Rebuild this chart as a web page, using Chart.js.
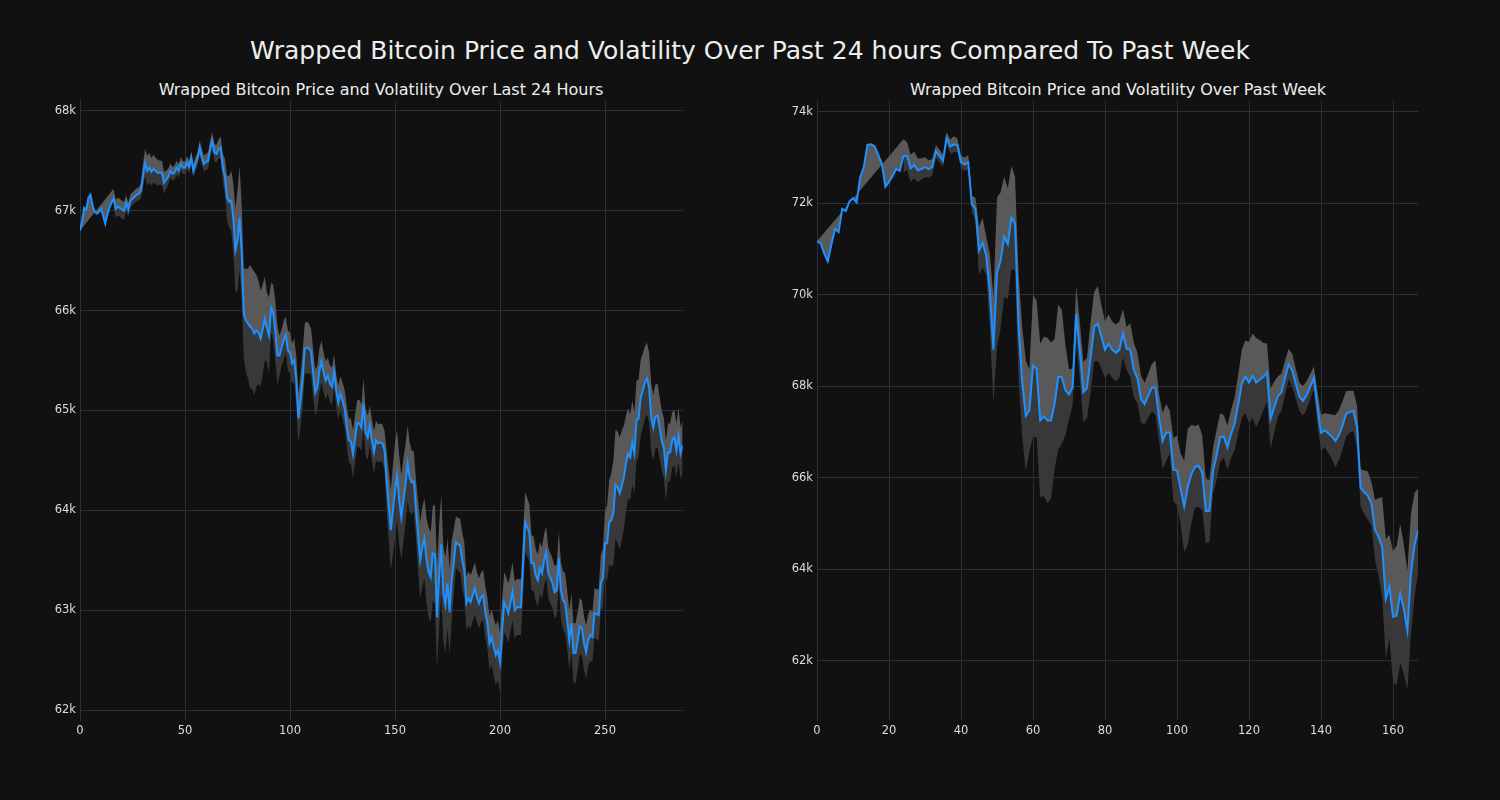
<!DOCTYPE html>
<html>
<head>
<meta charset="utf-8">
<script src="https://cdn.jsdelivr.net/npm/chart.js@4.4.1/dist/chart.umd.min.js"></script>
<style>
html,body{margin:0;padding:0;background:#111111;}
body{width:1500px;height:800px;position:relative;overflow:hidden;font-family:"DejaVu Sans",sans-serif;color:#eeeeee;}
.t{position:absolute;white-space:nowrap;transform:translate(-50%,-50%);}
#main{left:750px;top:50px;font-size:25px;}
#t1{left:381px;top:89px;font-size:16px;}
#t2{left:1118px;top:89px;font-size:16px;}
canvas{position:absolute;}
</style>
</head>
<body>
<div class="t" id="main">Wrapped Bitcoin Price and Volatility Over Past 24 hours Compared To Past Week</div>
<div class="t" id="t1">Wrapped Bitcoin Price and Volatility Over Last 24 Hours</div>
<div class="t" id="t2">Wrapped Bitcoin Price and Volatility Over Past Week</div>
<canvas id="c1" width="700" height="660" style="left:0px;top:90px"></canvas>
<canvas id="c2" width="700" height="660" style="left:740px;top:90px"></canvas>
<script>
// ---- Last 24 hours (5-minute steps) ----
const dayIndex = Array.from({length: 288}, (_, i) => i);
const dayPrice = [
66800,66900,67030,67010,67130,67160,67050,66990,66970,66990,
67020,66950,66870,66960,67030,67080,67120,67020,67040,67030,
67010,67000,67080,67010,67100,67120,67140,67160,67170,67200,
67350,67480,67400,67430,67390,67420,67400,67380,67380,67380,
67280,67310,67340,67400,67370,67380,67430,67400,67470,67430,
67430,67480,67440,67530,67400,67470,67520,67630,67540,67470,
67490,67500,67620,67700,67580,67570,67620,67630,67430,67340,
67130,67090,67100,66930,66600,66700,66930,66570,65970,65900,
65870,65840,65820,65770,65800,65780,65720,65810,65920,65830,
65750,66030,65980,65800,65550,65550,65630,65700,65760,65600,
65580,65470,65500,65300,64920,65100,65300,65620,65630,65620,
65590,65380,65180,65230,65400,65490,65380,65300,65350,65270,
65240,65390,65200,65080,65170,65100,65020,64850,64700,64690,
64560,64720,64870,64870,64830,65070,64780,64730,64850,64700,
64580,64700,64670,64680,64670,64600,64300,64050,63800,64000,
64200,64350,64100,63930,64100,64260,64470,64330,64280,64290,
64000,63750,63500,63630,63720,63500,63380,63330,63570,63560,
62930,63330,63660,63170,63050,63270,62980,63300,63480,63680,
63660,63650,63500,63400,63070,63120,63080,63150,63220,63130,
63070,63130,63150,62980,62870,62670,62730,62630,62550,62600,
62480,62800,63080,63030,62970,63080,63190,63000,63030,63030,
63030,63470,63880,63830,63770,63470,63470,63350,63300,63420,
63370,63500,63580,63370,63320,63270,63180,63200,63520,63200,
63100,63070,62900,62700,62870,62570,62570,62700,62840,62820,
62670,62580,62700,62750,62730,62970,62960,62950,63270,63320,
63670,63670,63880,63900,63980,64260,64230,64170,64250,64330,
64470,64570,64530,64680,64570,64900,64920,65130,65200,65280,
65320,65230,64930,64830,64940,64950,64830,64700,64630,64400,
64580,64580,64700,64730,64600,64750,64570,64650
];
const dayVol = [
0,null,null,null,null,null,null,null,null,null,
null,null,null,null,null,null,100,90,90,90,
90,90,80,70,65,65,65,65,65,80,
120,140,150,150,140,140,130,130,120,120,
110,90,80,75,70,70,70,70,65,65,
65,65,65,65,70,70,70,75,80,80,
80,85,85,85,85,90,95,110,140,180,
220,260,300,350,420,500,520,480,450,520,
550,620,600,620,560,520,480,450,420,350,
380,250,280,300,300,200,180,200,180,200,
200,200,220,250,250,250,280,250,260,250,
230,240,230,220,220,210,200,190,180,180,
190,170,160,170,170,180,190,200,220,230,
240,240,230,240,230,250,240,220,200,210,
210,200,190,190,190,200,300,350,400,450,
480,450,450,420,420,400,380,350,320,300,
300,350,380,400,400,420,450,450,470,500,
520,520,500,480,480,450,430,400,330,260,
260,270,280,280,270,270,270,260,260,250,
250,250,250,260,260,270,280,290,300,300,
300,300,300,300,300,290,290,290,280,280,
280,300,300,290,290,280,270,260,260,260,
260,260,260,250,250,250,260,260,270,280,
290,300,300,300,300,300,300,290,280,280,
270,270,260,260,250,250,250,260,280,300,
320,380,420,470,520,550,560,560,550,520,
480,450,430,420,410,400,390,380,370,360,
360,350,340,330,320,320,310,300,300,300,
290,290,280,280,270,270,260,260
];
const dayXTicks = [0, 50, 100, 150, 200, 250];
const dayYTicks = [62000, 63000, 64000, 65000, 66000, 67000, 68000];

// ---- Past week (hourly steps) ----
const weekIndex = Array.from({length: 168}, (_, i) => i);
const weekPrice = [
71170,71130,70900,70730,71100,71440,71370,71880,71830,72040,
72110,72020,72570,72790,73280,73290,73250,73060,72870,72365,
72470,72600,72750,72710,73030,73040,72765,72840,72720,72750,
72790,72750,72790,73140,73040,72930,73430,73240,73290,73270,
72900,72850,72900,71985,71880,70965,71135,70860,70090,68800,
70490,70750,71270,71110,71690,71560,69300,68100,67350,67470,
68450,68380,67250,67340,67250,67250,67610,68200,68200,67910,
67820,67980,69580,68780,67870,67960,68640,69300,69370,69080,
68800,68930,68800,68730,68800,69160,68820,68800,68360,68180,
67720,67610,67790,67970,67970,67320,66800,66990,66990,66170,
66160,65760,65370,65800,66080,66240,66260,66110,65270,65270,
66150,66490,66880,66900,66660,66950,67180,67600,68060,68210,
68080,68230,68080,68140,68210,68300,67290,67540,67770,67870,
68180,68480,68350,68050,67770,67680,67800,67990,68180,67540,
66980,67040,66970,66900,66800,66930,67150,67400,67440,67460,
67110,65780,65680,65610,65430,64860,64700,64480,63350,63620,
62960,62980,63460,63130,62660,63920,64540,64850
];
const weekVol = [
0,null,null,null,null,null,null,null,null,null,
null,null,null,null,null,null,null,null,null,null,
null,null,null,null,370,300,300,290,260,230,
220,190,180,130,140,130,125,155,175,150,
145,145,155,180,250,525,545,420,805,1165,
1640,1490,1310,1215,1130,1020,1150,1200,1210,900,
1550,1495,1685,1740,1810,1705,1425,1585,1465,990,
550,405,605,625,660,660,770,765,820,690,
620,640,615,620,615,530,470,585,595,550,
515,460,480,515,595,510,620,620,470,690,
770,775,1000,1275,1070,890,900,825,705,680,
500,550,530,465,480,525,580,650,745,795,
885,925,975,870,735,635,660,565,440,400,
375,335,360,325,310,325,310,275,250,365,
395,370,430,480,570,550,525,495,460,440,
475,410,475,530,480,655,850,1095,1310,1130,
1435,1525,1525,1415,1310,1315,1130,915
];
const weekXTicks = [0, 20, 40, 60, 80, 100, 120, 140, 160];
const weekYTicks = [62000, 64000, 66000, 68000, 70000, 72000, 74000];

const GRID = '#29313d';
const TICK = '#dddddd';
const LINE = '#1e90ff';
const BAND_UP = '#595959';
const BAND_DN = '#383838';

function makeChart(id, labels, price, vol, xMax, xTicks, yMin, yMax, yTicks, yAxisW, padRight) {
  const upper = price.map((v, i) => vol[i] == null ? null : v + vol[i]);
  const lower = price.map((v, i) => vol[i] == null ? null : v - vol[i]);
  return new Chart(document.getElementById(id), {
    type: 'line',
    data: {
      labels: labels,
      datasets: [
        {data: price, borderColor: LINE, borderWidth: 2, pointRadius: 0, fill: false, tension: 0},
        {data: upper, borderColor: 'rgba(0,0,0,0)', borderWidth: 0, pointRadius: 0, backgroundColor: BAND_UP, fill: {target: 0}, spanGaps: true, tension: 0},
        {data: lower, borderColor: 'rgba(0,0,0,0)', borderWidth: 0, pointRadius: 0, backgroundColor: BAND_DN, fill: {target: 0}, spanGaps: false, tension: 0}
      ]
    },
    options: {
      responsive: false,
      animation: false,
      events: [],
      layout: {padding: {left: 0, right: padRight, top: 10, bottom: 0}},
      plugins: {legend: {display: false}, tooltip: {enabled: false}, title: {display: false}},
      scales: {
        x: {
          type: 'linear', min: 0, max: xMax,
          grid: {color: GRID, lineWidth: 1, drawTicks: false},
          border: {display: false},
          ticks: {color: TICK, padding: 4, maxRotation: 0, autoSkip: false,
                  font: {family: 'DejaVu Sans', size: 11.5}},
          afterBuildTicks: s => { s.ticks = xTicks.map(v => ({value: v})); },
          afterFit: s => { s.height = 30; }
        },
        y: {
          min: yMin, max: yMax,
          grid: {color: GRID, lineWidth: 1, drawTicks: false},
          border: {display: true, color: GRID},
          ticks: {color: TICK, padding: 4, autoSkip: false,
                  font: {family: 'DejaVu Sans', size: 11.5},
                  callback: v => (v / 1000) + 'k'},
          afterBuildTicks: s => { s.ticks = yTicks.map(v => ({value: v})); },
          afterFit: s => { s.width = yAxisW; }
        }
      }
    }
  });
}

makeChart('c1', dayIndex, dayPrice, dayVol, 287, dayXTicks, 61900, 68100, dayYTicks, 80, 17.3);
makeChart('c2', weekIndex, weekPrice, weekVol, 167, weekXTicks, 60700, 74240, weekYTicks, 77, 21.8);
</script>
</body>
</html>
